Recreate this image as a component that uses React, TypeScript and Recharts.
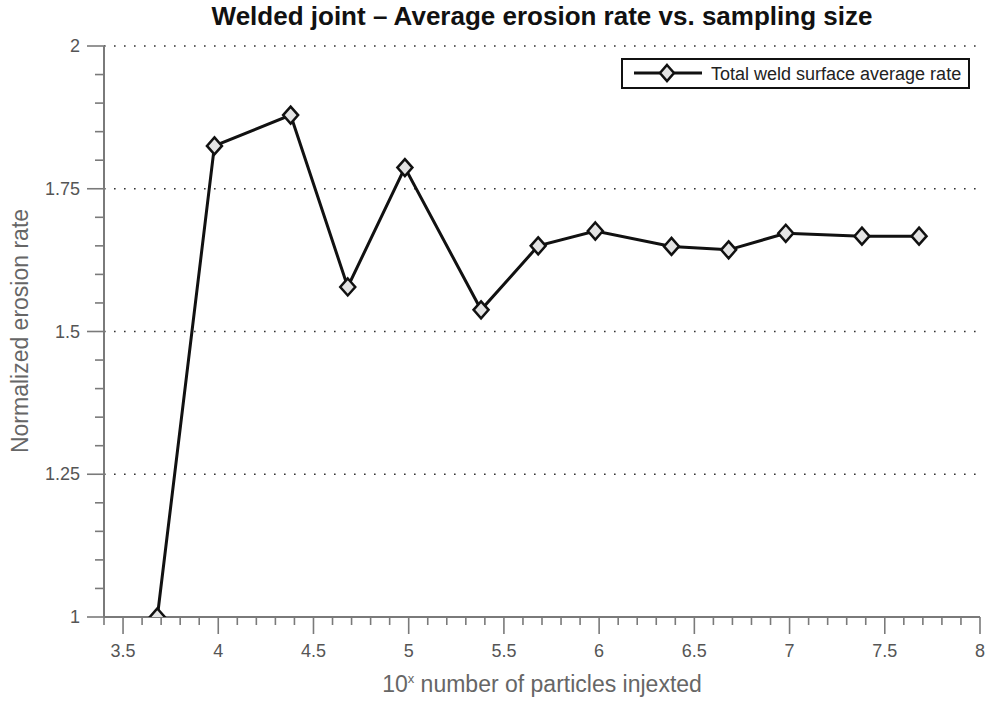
import React from 'react';
import { LineChart, Line, XAxis, YAxis, ReferenceLine } from 'recharts';

// log10 of particle count vs. normalized average erosion rate
const exponents = [3.68, 3.98, 4.38, 4.68, 4.98, 5.38, 5.68, 5.98, 6.38, 6.68, 6.98, 7.38, 7.68];
const rates = [1.0, 1.825, 1.879, 1.578, 1.787, 1.538, 1.65, 1.676, 1.649, 1.643, 1.672, 1.667, 1.667];

const xMajorTicks = [3.5, 4, 4.5, 5, 5.5, 6, 6.5, 7, 7.5, 8];
const yMajorTicks = [1, 1.25, 1.5, 1.75, 2];
const gridLevels = [1.25, 1.5, 1.75, 2];

const xTicks: number[] = [];
for (let i = 34; i <= 80; i++) xTicks.push(i / 10);
const yTicks: number[] = [];
for (let i = 20; i <= 40; i++) yTicks.push(i / 20);

const data = exponents.map((x, i) => ({ x, rate: rates[i] }));

const FONT = '"Liberation Sans", Arial, sans-serif';
const AXIS_GRAY = '#7a7a7a';
const TEXT_GRAY = '#555';

const isMajor = (v: number, list: number[]) => list.some((m) => Math.abs(m - v) < 1e-6);

const XTick = (props: any) => {
  const { x, y, payload } = props;
  const major = isMajor(payload.value, xMajorTicks);
  return (
    <g>
      <line x1={x} x2={x} y1={y} y2={y + (major ? 17 : 8)} stroke={AXIS_GRAY} strokeWidth={1.6} />
      {major && (
        <text x={x} y={y + 40} textAnchor="middle" fontSize={18} fill={TEXT_GRAY} fontFamily={FONT}>
          {payload.value}
        </text>
      )}
    </g>
  );
};

const YTick = (props: any) => {
  const { x, y, payload } = props;
  const major = isMajor(payload.value, yMajorTicks);
  return (
    <g>
      <line x1={x} x2={x - (major ? 17 : 9)} y1={y} y2={y} stroke={AXIS_GRAY} strokeWidth={1.6} />
      {major && (
        <text x={x - 24} y={y + 6} textAnchor="end" fontSize={18} fill={TEXT_GRAY} fontFamily={FONT}>
          {payload.value}
        </text>
      )}
    </g>
  );
};

const Diamond = (props: any) => {
  const { cx, cy } = props;
  if (cx == null || cy == null) return null;
  return (
    <polygon
      points={`${cx},${cy - 8.5} ${cx + 7.5},${cy} ${cx},${cy + 8.5} ${cx - 7.5},${cy}`}
      fill="#e4e4e4"
      stroke="#111"
      strokeWidth={2.5}
    />
  );
};

const LegendBox = () => (
  <svg width={350} height={32} style={{ position: 'absolute', left: 621, top: 58 }}>
    <rect x={1} y={1} width={347} height={29} fill="#fff" stroke="#111" strokeWidth={2} />
    <line x1={13} x2={81} y1={15} y2={15} stroke="#111" strokeWidth={3} />
    <polygon points="46,7 53,15 46,23 39,15" fill="#e4e4e4" stroke="#111" strokeWidth={2.5} />
    <text x={90} y={21.5} fontSize={18} fill="#222" fontFamily={FONT}>
      Total weld surface average rate
    </text>
  </svg>
);

export default function App() {
  return (
    <div style={{ position: 'absolute', left: 0, top: 0, width: 986, height: 704, background: '#fff' }}>
      <div
        style={{
          position: 'absolute', left: 104, width: 876, top: 1, textAlign: 'center',
          fontFamily: FONT, fontWeight: 'bold', fontSize: 26, color: '#111',
        }}
      >
        Welded joint – Average erosion rate vs. sampling size
      </div>
      <LineChart width={986} height={704} data={data} margin={{ top: 46, right: 6, bottom: 47, left: 44 }}>
        {gridLevels.map((v) => (
          <ReferenceLine
            key={v}
            y={v}
            stroke="#333"
            strokeWidth={1.6}
            strokeDasharray="1.6 8.4"
            segment={[{ x: 3.46, y: v }, { x: 7.98, y: v }]}
          />
        ))}
        <XAxis
          type="number"
          dataKey="x"
          domain={[3.4, 8]}
          ticks={xTicks}
          interval={0}
          height={40}
          tickSize={0}
          tickMargin={0}
          tick={<XTick />}
          stroke={AXIS_GRAY}
          strokeWidth={2}
          allowDataOverflow
        />
        <YAxis
          type="number"
          domain={[1, 2]}
          ticks={yTicks}
          interval={0}
          width={60}
          tickSize={0}
          tickMargin={0}
          tick={<YTick />}
          stroke={AXIS_GRAY}
          strokeWidth={2}
          allowDataOverflow
        />
        <Line
          type="linear"
          dataKey="rate"
          stroke="#111"
          strokeWidth={3}
          dot={<Diamond />}
          activeDot={false}
          isAnimationActive={false}
        />
      </LineChart>
      <LegendBox />
      <div style={{ position: 'absolute', left: 20, top: 331, width: 0, height: 0 }}>
        <div
          style={{
            position: 'absolute', left: 0, top: 0, whiteSpace: 'nowrap',
            transform: 'translate(-50%, -50%) rotate(-90deg)', transformOrigin: 'center',
            fontFamily: FONT, fontSize: 23, color: '#666',
          }}
        >
          Normalized erosion rate
        </div>
      </div>
      <div
        style={{
          position: 'absolute', left: 104, width: 876, top: 671, textAlign: 'center',
          fontFamily: FONT, fontSize: 23, color: '#666',
        }}
      >
        10<sup style={{ fontSize: 13 }}>x</sup> number of particles injexted
      </div>
    </div>
  );
}
